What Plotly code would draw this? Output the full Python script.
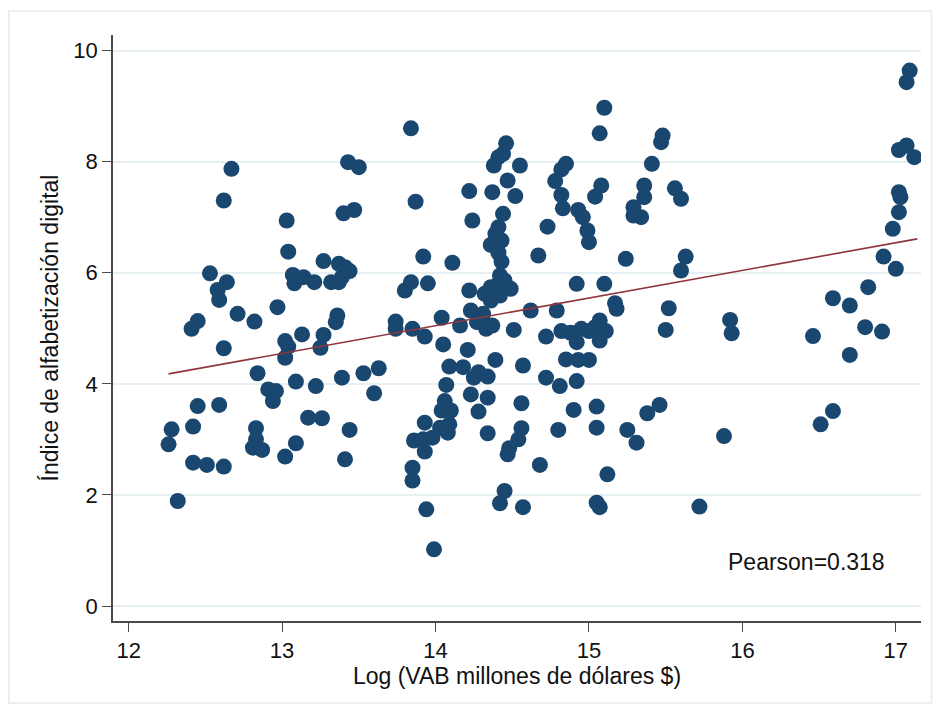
import numpy as np
import plotly.graph_objects as go

# Log of gross value added (millions of US$) per unit
log_vab = [
    12.26, 12.28, 12.32, 12.41, 12.45, 12.42, 12.45, 12.42, 12.51, 12.62,
    12.53, 12.58, 12.59, 12.64, 12.59, 12.62, 12.62, 12.67, 12.71, 12.82,
    12.84, 12.83, 12.83, 12.81, 12.87, 12.91, 12.96, 12.94, 12.97, 13.02,
    13.04, 13.02, 13.03, 13.04, 13.07, 13.14, 13.08, 13.21, 13.09, 13.09,
    13.02, 13.13, 13.17, 13.26, 13.22, 13.27, 13.25, 13.27, 13.37, 13.41,
    13.44, 13.39, 13.32, 13.37, 13.36, 13.35, 13.39, 13.44, 13.41, 13.40,
    13.47, 13.43, 13.50, 13.53, 13.63, 13.60, 13.74, 13.74, 13.85, 13.93,
    13.80, 13.84, 13.84, 13.87, 13.92, 13.95, 13.86, 13.92, 13.98, 13.93,
    13.93, 14.03, 14.08, 14.09, 13.85, 13.85, 13.94, 13.99, 14.06, 14.04,
    14.10, 14.07, 14.09, 14.18, 14.28, 14.25, 14.34, 14.21, 14.05, 14.39,
    14.57, 14.23, 14.34, 14.28, 14.34, 14.56, 14.56, 14.54, 14.48, 14.47,
    14.45, 14.42, 14.57, 14.68, 14.04, 14.16, 14.23, 14.31, 14.27, 14.33,
    14.37, 14.51, 14.62, 14.79, 14.22, 14.32, 14.41, 14.45, 14.49, 14.42,
    14.36, 14.42, 14.36, 14.11, 14.67, 14.73, 14.24, 14.22, 14.37, 14.47,
    14.52, 14.41, 14.38, 14.44, 14.55, 14.46, 14.44, 14.41, 14.39, 14.43,
    14.36, 14.41, 14.43, 14.85, 14.82, 14.78, 14.82, 14.83, 14.93, 14.96,
    14.99, 15.00, 15.10, 15.07, 15.08, 15.04, 14.92, 15.10, 15.17, 15.18,
    14.72, 14.82, 14.88, 14.95, 14.92, 15.00, 15.07, 15.11, 15.07, 15.04,
    14.85, 14.93, 15.00, 14.72, 14.81, 14.92, 14.90, 14.80, 15.05, 15.05,
    15.12, 15.05, 15.07, 15.25, 15.31, 15.38, 15.46, 15.24, 15.29, 15.29,
    15.34, 15.36, 15.36, 15.41, 15.48, 15.47, 15.56, 15.60, 15.63, 15.60,
    15.52, 15.50, 15.88, 15.72, 15.92, 15.93, 16.46, 16.51, 16.59, 16.59,
    16.70, 16.82, 16.80, 16.91, 16.70, 16.92, 17.00, 16.98, 17.02, 17.02,
    17.03, 17.02, 17.07, 17.12, 17.07, 17.09,
]

# Digital literacy index per unit
indice = [
    2.91, 3.18, 1.89, 4.99, 5.13, 3.23, 3.60, 2.58, 2.54, 2.51,
    5.99, 5.69, 5.51, 5.83, 3.62, 4.64, 7.30, 7.87, 5.26, 5.12,
    4.19, 3.20, 3.00, 2.85, 2.81, 3.90, 3.87, 3.69, 5.38, 4.77,
    4.67, 4.47, 6.94, 6.38, 5.96, 5.92, 5.81, 5.83, 4.04, 2.93,
    2.69, 4.89, 3.39, 3.38, 3.96, 4.88, 4.65, 6.21, 6.16, 6.10,
    6.03, 5.92, 5.83, 5.83, 5.23, 5.11, 4.11, 3.17, 2.64, 7.07,
    7.13, 7.99, 7.90, 4.19, 4.28, 3.83, 5.12, 4.99, 4.99, 4.85,
    5.68, 5.83, 8.60, 7.28, 6.29, 5.81, 2.98, 3.00, 3.03, 3.30,
    2.78, 3.21, 3.12, 3.27, 2.49, 2.26, 1.74, 1.02, 3.69, 3.52,
    3.52, 3.98, 4.31, 4.30, 4.21, 4.11, 4.13, 4.61, 4.71, 4.43,
    4.33, 3.81, 3.75, 3.50, 3.11, 3.65, 3.20, 3.00, 2.84, 2.73,
    2.07, 1.85, 1.78, 2.54, 5.19, 5.05, 5.32, 5.26, 5.11, 4.99,
    5.05, 4.97, 5.32, 5.32, 5.68, 5.62, 5.80, 5.86, 5.71, 5.59,
    5.50, 5.95, 5.74, 6.18, 6.31, 6.83, 6.94, 7.47, 7.45, 7.66,
    7.38, 8.08, 7.93, 8.14, 7.93, 8.33, 7.06, 6.82, 6.70, 6.58,
    6.50, 6.36, 6.20, 7.96, 7.86, 7.65, 7.40, 7.16, 7.13, 7.00,
    6.76, 6.55, 8.97, 8.51, 7.57, 7.37, 5.80, 5.80, 5.45, 5.35,
    4.85, 4.95, 4.92, 4.99, 4.75, 4.95, 5.14, 4.95, 4.78, 5.02,
    4.44, 4.43, 4.43, 4.11, 3.96, 4.05, 3.53, 3.17, 3.59, 3.21,
    2.37, 1.86, 1.78, 3.17, 2.94, 3.47, 3.62, 6.25, 7.18, 7.03,
    7.00, 7.57, 7.36, 7.96, 8.47, 8.35, 7.52, 7.33, 6.29, 6.04,
    5.36, 4.97, 3.06, 1.79, 5.15, 4.91, 4.86, 3.27, 3.51, 5.54,
    5.41, 5.74, 5.02, 4.94, 4.52, 6.29, 6.07, 6.79, 7.09, 7.45,
    7.36, 8.21, 8.29, 8.08, 9.43, 9.64,
]

x_ticks = [12, 13, 14, 15, 16, 17]
y_ticks = [0, 2, 4, 6, 8, 10]
pearson_label = "Pearson=0.318"

# Fitted line (intercept, slope) of the index on log VAB
fit_intercept = -1.926
fit_slope = 0.498

x = np.array(log_vab)
y = np.array(indice)
fit_x = np.array([x.min(), x.max() + 0.02])
fit_y = fit_intercept + fit_slope * fit_x

navy = "#1a476f"
maroon = "#90353b"
grid = "#e6eff1"
axis_col = "#4a4a4a"
font_family = "Arial, 'Liberation Sans', sans-serif"
fs = 23

fig = go.Figure()
fig.add_trace(go.Scatter(
    x=x, y=y, mode="markers",
    marker=dict(color=navy, size=16, line=dict(width=0)),
    hoverinfo="skip", showlegend=False,
))
fig.add_trace(go.Scatter(
    x=fit_x, y=fit_y, mode="lines",
    line=dict(color=maroon, width=1.6),
    hoverinfo="skip", showlegend=False,
))

fig.add_annotation(
    x=16.42, y=0.79, xref="x", yref="y", text=pearson_label,
    showarrow=False, font=dict(size=fs, color="#111111", family=font_family),
)

# faint outer frame of the graph region
fig.add_shape(
    type="rect", xref="paper", yref="paper",
    x0=-0.129, x1=1.013, y0=-0.14, y1=1.041,
    line=dict(color="#e3ecef", width=1.5), layer="below",
)

fig.update_layout(
    width=940, height=711,
    margin=dict(l=113, r=19, t=35, b=90),
    paper_bgcolor="white", plot_bgcolor="white",
    font=dict(family=font_family, size=fs, color="#111111"),
)
fig.update_xaxes(
    range=[11.898, 17.164], tickvals=x_ticks,
    ticks="outside", ticklen=9, tickwidth=1.3, tickcolor=axis_col,
    showline=True, linecolor=axis_col, linewidth=1.6,
    showgrid=False, zeroline=False,
    tickfont=dict(size=fs - 1),
    title=dict(text="Log (VAB millones de dólares $)", font=dict(size=fs), standoff=4),
)
fig.update_yaxes(
    range=[-0.27, 10.28], tickvals=y_ticks,
    ticks="outside", ticklen=9, tickwidth=1.3, tickcolor=axis_col,
    showline=True, linecolor=axis_col, linewidth=1.6,
    showgrid=True, gridcolor=grid, gridwidth=2, zeroline=False,
    tickfont=dict(size=fs - 1),
    title=dict(text="Índice de alfabetización digital", font=dict(size=fs), standoff=8),
)

fig.write_html("out.html")
